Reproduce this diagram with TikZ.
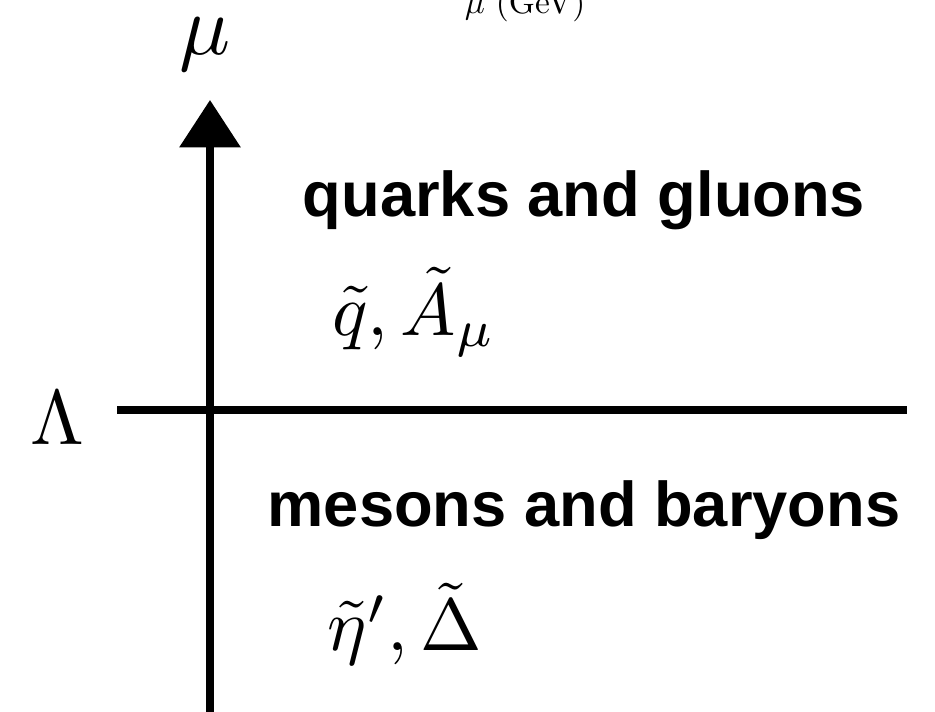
\documentclass[tikz,border=0pt]{standalone}
\usepackage{amsmath,amssymb}
\usepackage{fontspec}
\setsansfont{Liberation Sans}
\usepackage{tikz}
\usetikzlibrary{arrows.meta,positioning,calc}

\tikzset{
  phase/.style={font=\sffamily\bfseries\fontsize{36}{40}\selectfont, inner sep=0pt},
  fields/.style={scale=4.2, inner sep=0pt},
  axis/.style={line width=4pt, line cap=butt}
}

\begin{document}
\begin{tikzpicture}[x=0.02cm, y=-0.02cm]
            \useasboundingbox (0,0) rectangle (935,712);
            \clip (0,0) rectangle (935,712);
            % axis label cut off at the top
            \node[scale=1.9, anchor=base, inner sep=0pt] (unit) at (525,14) {$\mu$ (GeV)};
            
            \node[fields, scale=1.15] (mu) at (205,44) {$\mu$};
            \node[fields, scale=1.05] (lam) at (57,418) {$\Lambda$};
            
            \coordinate (bot) at (210,715);
            \coordinate (top) at (210,100);
            \coordinate (left) at (117,410);
            \coordinate (right) at (907,410);
            
            \node[phase] (high) at (584,200) {quarks and gluons};
            \node[fields] (hfields) at (414,312) {$\tilde{q},\tilde{A}_{\mu}$};
            
            \node[phase] (low) at (584,510) {mesons and baryons};
            \node[fields] (lfields) at (405,624) {$\tilde{\eta}',\tilde{\Delta}$};
            
            \draw[axis, -{Triangle[width=1.2cm,length=0.95cm]}] (bot) -- (top);
            \draw[axis, line width=4.5pt] (left) -- (right);
        \end{tikzpicture}
\end{document}
